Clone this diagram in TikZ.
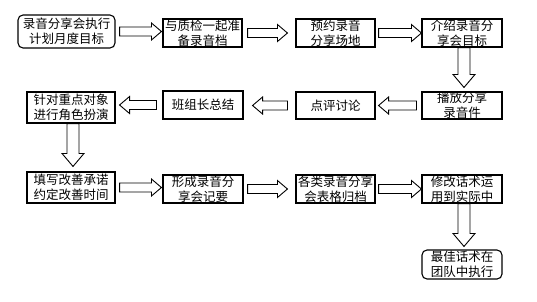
\documentclass[tikz,border=0pt]{standalone}
\usepackage{fontspec}
\newfontfamily\cjk{Noto Sans CJK SC}
\usetikzlibrary{calc}
\tikzset{
  box/.style={draw, line width=1.1pt, inner sep=0pt, align=center,
    font=\cjk\fontsize{12.5}{15}\selectfont},
  rbox/.style={box, rounded corners=5pt},
  barrow/.style={draw, fill=white, line width=0.9pt, line join=miter},
}
\newcommand{\rarr}[4]{\path[barrow] let \p1=(#1.east), \p2=(#2.west) in
  (\x1+#3pt,\y1+4.5pt) -- (\x2-#4pt-10pt,\y1+4.5pt) -- (\x2-#4pt-10pt,\y1+8.5pt) --
  (\x2-#4pt,\y1) -- (\x2-#4pt-10pt,\y1-8.5pt) -- (\x2-#4pt-10pt,\y1-4.5pt) --
  (\x1+#3pt,\y1-4.5pt) -- cycle;}
\newcommand{\larr}[4]{\path[barrow] let \p1=(#1.west), \p2=(#2.east) in
  (\x1-#3pt,\y1+4.5pt) -- (\x2+#4pt+10pt,\y1+4.5pt) -- (\x2+#4pt+10pt,\y1+8.5pt) --
  (\x2+#4pt,\y1) -- (\x2+#4pt+10pt,\y1-8.5pt) -- (\x2+#4pt+10pt,\y1-4.5pt) --
  (\x1-#3pt,\y1-4.5pt) -- cycle;}
\newcommand{\darr}[4]{\path[barrow] let \p1=(#1.south), \p2=(#2.north) in
  (\x1+2pt-6pt,\y1-#3pt) -- (\x1+2pt-6pt,\y2+#4pt+13pt) -- (\x1+2pt-11pt,\y2+#4pt+13pt) --
  (\x1+2pt,\y2+#4pt) -- (\x1+2pt+11pt,\y2+#4pt+13pt) -- (\x1+2pt+6pt,\y2+#4pt+13pt) --
  (\x1+2pt+6pt,\y1-#3pt) -- cycle;}
\begin{document}
\begin{tikzpicture}[x=1pt,y=-1pt]
\useasboundingbox[fill=white] (0,0) rectangle (537,301);
% row 1
\node[rbox, minimum width=97pt, minimum height=33pt] (b1) at (66.5,31.5) {录音分享会执行\\计划月度目标};
\node[box, minimum width=79pt, minimum height=28pt] (b2) at (202.5,33) {与质检一起准\\备录音档};
\node[box, minimum width=79pt, minimum height=28pt] (b3) at (335.5,33) {预约录音\\分享场地};
\node[box, minimum width=80pt, minimum height=28pt] (b4) at (462,33) {介绍录音分\\享会目标};
% row 2
\node[box, minimum width=80pt, minimum height=27pt] (b5) at (462,105.5) {播放分享\\录音件};
\node[box, minimum width=79pt, minimum height=27pt] (b6) at (335.5,105.5) {点评讨论};
\node[box, minimum width=80pt, minimum height=28pt] (b7) at (203,105) {班组长总结};
\node[box, minimum width=88pt, minimum height=31pt] (b8) at (71,107.5) {针对重点对象\\进行角色扮演};
% row 3
\node[box, minimum width=88pt, minimum height=31pt] (b9) at (71,187.5) {填写改善承诺\\约定改善时间};
\node[box, minimum width=80pt, minimum height=28pt] (b10) at (203,189) {形成录音分\\享会记要};
\node[box, minimum width=79pt, minimum height=28pt] (b11) at (335.5,189) {各类录音分享\\会表格归档};
\node[box, minimum width=80pt, minimum height=28pt] (b12) at (462,189) {修改话术运\\用到实际中};
% row 4
\node[rbox, minimum width=80pt, minimum height=29pt] (b13) at (462,264.5) {最佳话术在\\团队中执行};
% arrows
\rarr{b1}{b2}{4}{1}
\rarr{b2}{b3}{5}{8}
\rarr{b3}{b4}{3}{0}
\darr{b4}{b5}{0}{4}
\larr{b5}{b6}{5}{3}
\larr{b6}{b7}{8}{9}
\larr{b7}{b8}{6}{4}
\darr{b8}{b9}{0}{5}
\rarr{b9}{b10}{4}{1}
\rarr{b10}{b11}{4}{8}
\rarr{b11}{b12}{3}{0}
\darr{b12}{b13}{0}{3}
\end{tikzpicture}
\end{document}
